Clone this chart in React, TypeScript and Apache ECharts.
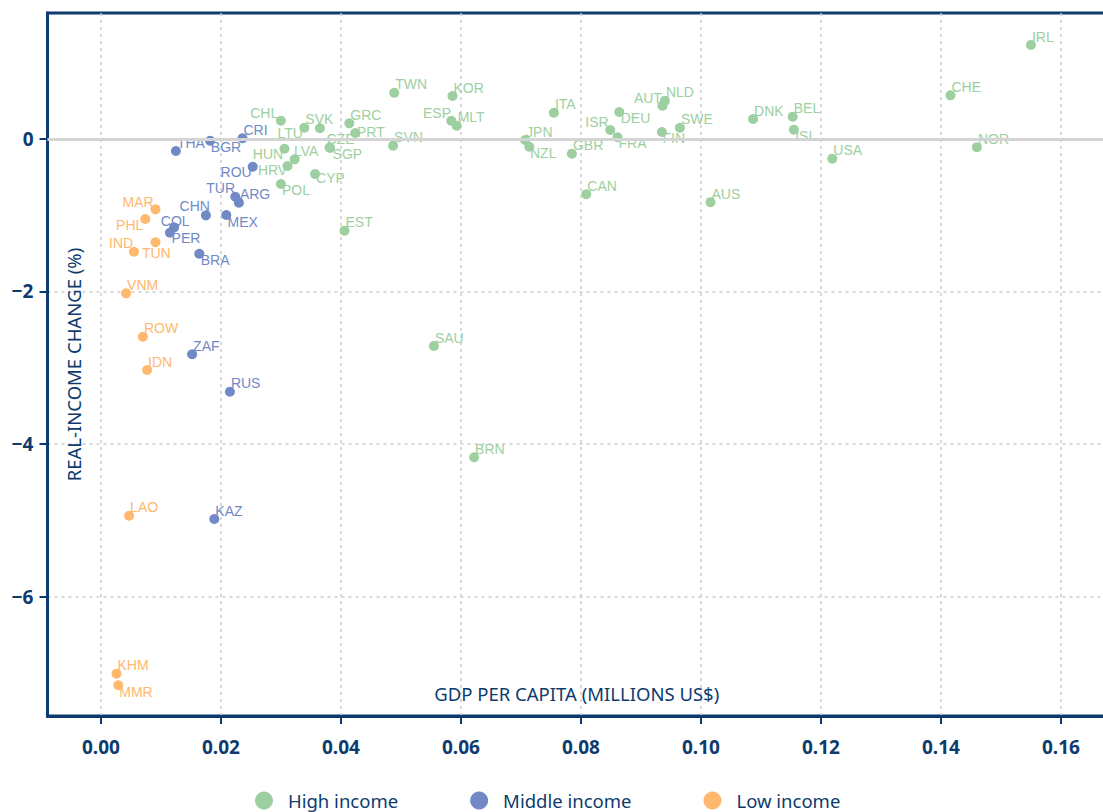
import React, { useEffect, useRef } from 'react';
import * as echarts from 'echarts';

// [country code, GDP per capita (millions US$), real-income change (%)]
const highIncome: [string, number, number][] = [
  ['IRL', 0.1550, 1.23], ['CHE', 0.1416, 0.57], ['NOR', 0.1460, -0.11], ['USA', 0.1219, -0.26],
  ['BEL', 0.1153, 0.29], ['ISL', 0.1155, 0.12], ['DNK', 0.1087, 0.26], ['AUS', 0.1016, -0.83],
  ['SWE', 0.0965, 0.145], ['NLD', 0.0940, 0.50], ['AUT', 0.0936, 0.434], ['FIN', 0.0935, 0.089],
  ['DEU', 0.0864, 0.351], ['FRA', 0.0861, 0.02], ['ISR', 0.0849, 0.115], ['CAN', 0.0809, -0.727],
  ['GBR', 0.0785, -0.195], ['ITA', 0.0755, 0.342], ['JPN', 0.0707, -0.016], ['NZL', 0.0714, -0.104],
  ['BRN', 0.0622, -4.174], ['SAU', 0.0555, -2.716], ['MLT', 0.0593, 0.172], ['KOR', 0.0586, 0.561],
  ['ESP', 0.0584, 0.237], ['TWN', 0.0489, 0.603], ['SVN', 0.0487, -0.09], ['EST', 0.0406, -1.204],
  ['GRC', 0.0414, 0.203], ['PRT', 0.0424, 0.076], ['CZE', 0.0381, -0.114], ['SGP', 0.0382, -0.121],
  ['CYP', 0.0357, -0.461], ['SVK', 0.0339, 0.145], ['LTU', 0.0365, 0.138], ['CHL', 0.0300, 0.237],
  ['HUN', 0.0306, -0.13], ['LVA', 0.0323, -0.269], ['HRV', 0.0311, -0.356], ['POL', 0.0300, -0.592],
];
const middleIncome: [string, number, number][] = [
  ['THA', 0.0125, -0.16], ['BGR', 0.0182, -0.025], ['CRI', 0.0236, 0.007], ['ROU', 0.0253, -0.366],
  ['TUR', 0.0224, -0.759], ['ARG', 0.0230, -0.837], ['CHN', 0.0175, -1.003], ['MEX', 0.0209, -0.999],
  ['COL', 0.0122, -1.16], ['PER', 0.0115, -1.231], ['BRA', 0.0164, -1.506], ['ZAF', 0.0152, -2.824],
  ['RUS', 0.0215, -3.315], ['KAZ', 0.0189, -4.983],
];
const lowIncome: [string, number, number][] = [
  ['MAR', 0.0091, -0.924], ['PHL', 0.0074, -1.051], ['IND', 0.0055, -1.48], ['TUN', 0.0091, -1.356],
  ['VNM', 0.0042, -2.025], ['ROW', 0.0070, -2.594], ['IDN', 0.0077, -3.03], ['LAO', 0.0047, -4.94],
  ['KHM', 0.0026, -7.01], ['MMR', 0.0029, -7.162],
];
const xTicks = [0, 0.02, 0.04, 0.06, 0.08, 0.1, 0.12, 0.14, 0.16];
const yTicks = [-6, -4, -2, 0];
const legendNames = ['High income', 'Middle income', 'Low income'];
const xTitle = 'GDP PER CAPITA (MILLIONS US$)';
const yTitle = 'REAL-INCOME CHANGE (%)';

// label placement (styling only): [dx, dy, align]
const DEFAULT_SHIFT: [number, number, string] = [1, -8.3, 'left'];
const labelShift: Record<string, [number, number, string]> = {
  ISL: [1.3, 6.3, 'left'], AUT: [-0.6, -8, 'right'], FIN: [0.6, 6.3, 'left'], DEU: [1.4, 6.3, 'left'],
  FRA: [1, 6, 'left'], ISR: [-1.7, -8.3, 'right'], NZL: [0.7, 6.6, 'left'], ESP: [-0.3, -8, 'right'],
  PRT: [1.7, -1.5, 'left'], CZE: [-3, -8, 'left'], SGP: [2.5, 5.5, 'left'], CYP: [1, 4.3, 'left'],
  LTU: [-17, 4.4, 'right'], CHL: [-2.7, -8, 'right'], HUN: [-1.3, 5.6, 'right'], LVA: [-0.7, -8.3, 'left'],
  HRV: [-0.3, 4, 'right'], POL: [1, 6, 'left'], BGR: [0.7, 6.3, 'left'], ROU: [-1, 5, 'right'],
  TUR: [-0.3, -8.4, 'right'], CHN: [4, -9.3, 'right'], MEX: [1.3, 6.7, 'left'], COL: [-13.3, -6.6, 'left'],
  PER: [1.7, 5.6, 'left'], BRA: [1.4, 6.3, 'left'], MAR: [-2, -7.6, 'right'], PHL: [-2, 6, 'right'],
  IND: [-0.7, -8.4, 'right'], TUN: [-13.6, 10.4, 'left'], MMR: [1, 6.4, 'left'],
};

const NAVY = '#0d3b6e';
const COLORS = ['#9dcfa0', '#7189c5', '#ffb86e'];
const UI_FONT = 'Noto Sans';

function makeSeries(name: string, rows: [string, number, number][], color: string) {
  return {
    type: 'scatter',
    name,
    symbolSize: 10,
    z: 3,
    itemStyle: { color, opacity: 1 },
    emphasis: { disabled: true },
    label: {
      show: true,
      formatter: '{b}',
      position: 'inside',
      color,
      fontSize: 14,
      fontFamily: 'Liberation Sans',
      verticalAlign: 'middle',
    },
    data: rows.map(([code, x, y]) => {
      const s = labelShift[code] || DEFAULT_SHIFT;
      return { name: code, value: [x, y], label: { offset: [s[0], s[1]], align: s[2] } };
    }),
  };
}

export default function App() {
  const ref = useRef<HTMLDivElement>(null);
  useEffect(() => {
    document.body.style.margin = '0';
    const chart = echarts.init(ref.current!, null, { renderer: 'svg' });
    const x0 = 100.9, xScale = 6000, y0 = 138.8, yScale = 76.3;
    const gl = 47.5, gt = 13, gb = 716, gr = 1106;
    chart.setOption({
      animation: false,
      backgroundColor: '#ffffff',
      grid: {
        left: gl, top: gt, width: gr - gl, height: gb - gt,
        outerBoundsMode: 'none', containLabel: false,
        show: true, borderColor: NAVY, borderWidth: 3, backgroundColor: 'transparent',
      },
      xAxis: {
        type: 'value',
        min: (gl - x0) / xScale,
        max: (gr - x0) / xScale,
        minInterval: 0.02, maxInterval: 0.02,
        name: xTitle,
        nameLocation: 'middle',
        nameGap: -32,
        nameTextStyle: { color: NAVY, fontSize: 18.5, fontFamily: UI_FONT },
        axisLine: { onZero: false, lineStyle: { color: NAVY, width: 3 } },
        axisTick: { show: true, length: 8, lineStyle: { color: NAVY, width: 2 }, customValues: xTicks },
        axisLabel: {
          color: NAVY, fontSize: 19, fontWeight: 'bold', fontFamily: UI_FONT, margin: 21,
          customValues: xTicks,
          formatter: (v: number) => v.toFixed(2),
        },
        splitLine: { show: true, lineStyle: { color: '#cccccc', width: 1.5, type: [3, 4] } },
      },
      yAxis: {
        type: 'value',
        min: -(gb - y0) / yScale,
        max: (y0 - gt) / yScale,
        minInterval: 2, maxInterval: 2,
        name: yTitle,
        nameLocation: 'middle',
        nameGap: -35,
        nameTextStyle: { color: NAVY, fontSize: 18.5, fontFamily: UI_FONT },
        axisLine: { show: true, onZero: false, lineStyle: { color: NAVY, width: 3 } },
        axisTick: { show: true, length: 8, lineStyle: { color: NAVY, width: 2 }, customValues: yTicks },
        axisLabel: {
          color: NAVY, fontSize: 19, fontWeight: 'bold', fontFamily: UI_FONT, margin: 14,
          customValues: yTicks,
          formatter: (v: number) => (v < 0 ? '\u2212' + Math.abs(v) : String(v)),
        },
        splitLine: { show: true, lineStyle: { color: '#cccccc', width: 1.5, type: [3, 4] } },
      },
      legend: {
        data: legendNames,
        top: 786,
        left: 250,
        icon: 'circle',
        itemWidth: 18,
        itemHeight: 18,
        itemGap: 72,
        textStyle: { fontSize: 18.5, color: NAVY, fontFamily: UI_FONT, padding: [0, 0, 0, 10] },
      },
      series: [
        {
          type: 'scatter',
          name: 'zero',
          data: [],
          z: 1,
          markLine: {
            silent: true,
            symbol: 'none',
            label: { show: false },
            lineStyle: { color: '#d4d4d4', type: 'solid', width: 3 },
            data: [{ yAxis: 0 }],
          },
        },
        makeSeries(legendNames[0], highIncome, COLORS[0]),
        makeSeries(legendNames[1], middleIncome, COLORS[1]),
        makeSeries(legendNames[2], lowIncome, COLORS[2]),
      ],
    });
    return () => chart.dispose();
  }, []);
  return <div ref={ref} style={{ width: 1103, height: 812 }} />;
}
